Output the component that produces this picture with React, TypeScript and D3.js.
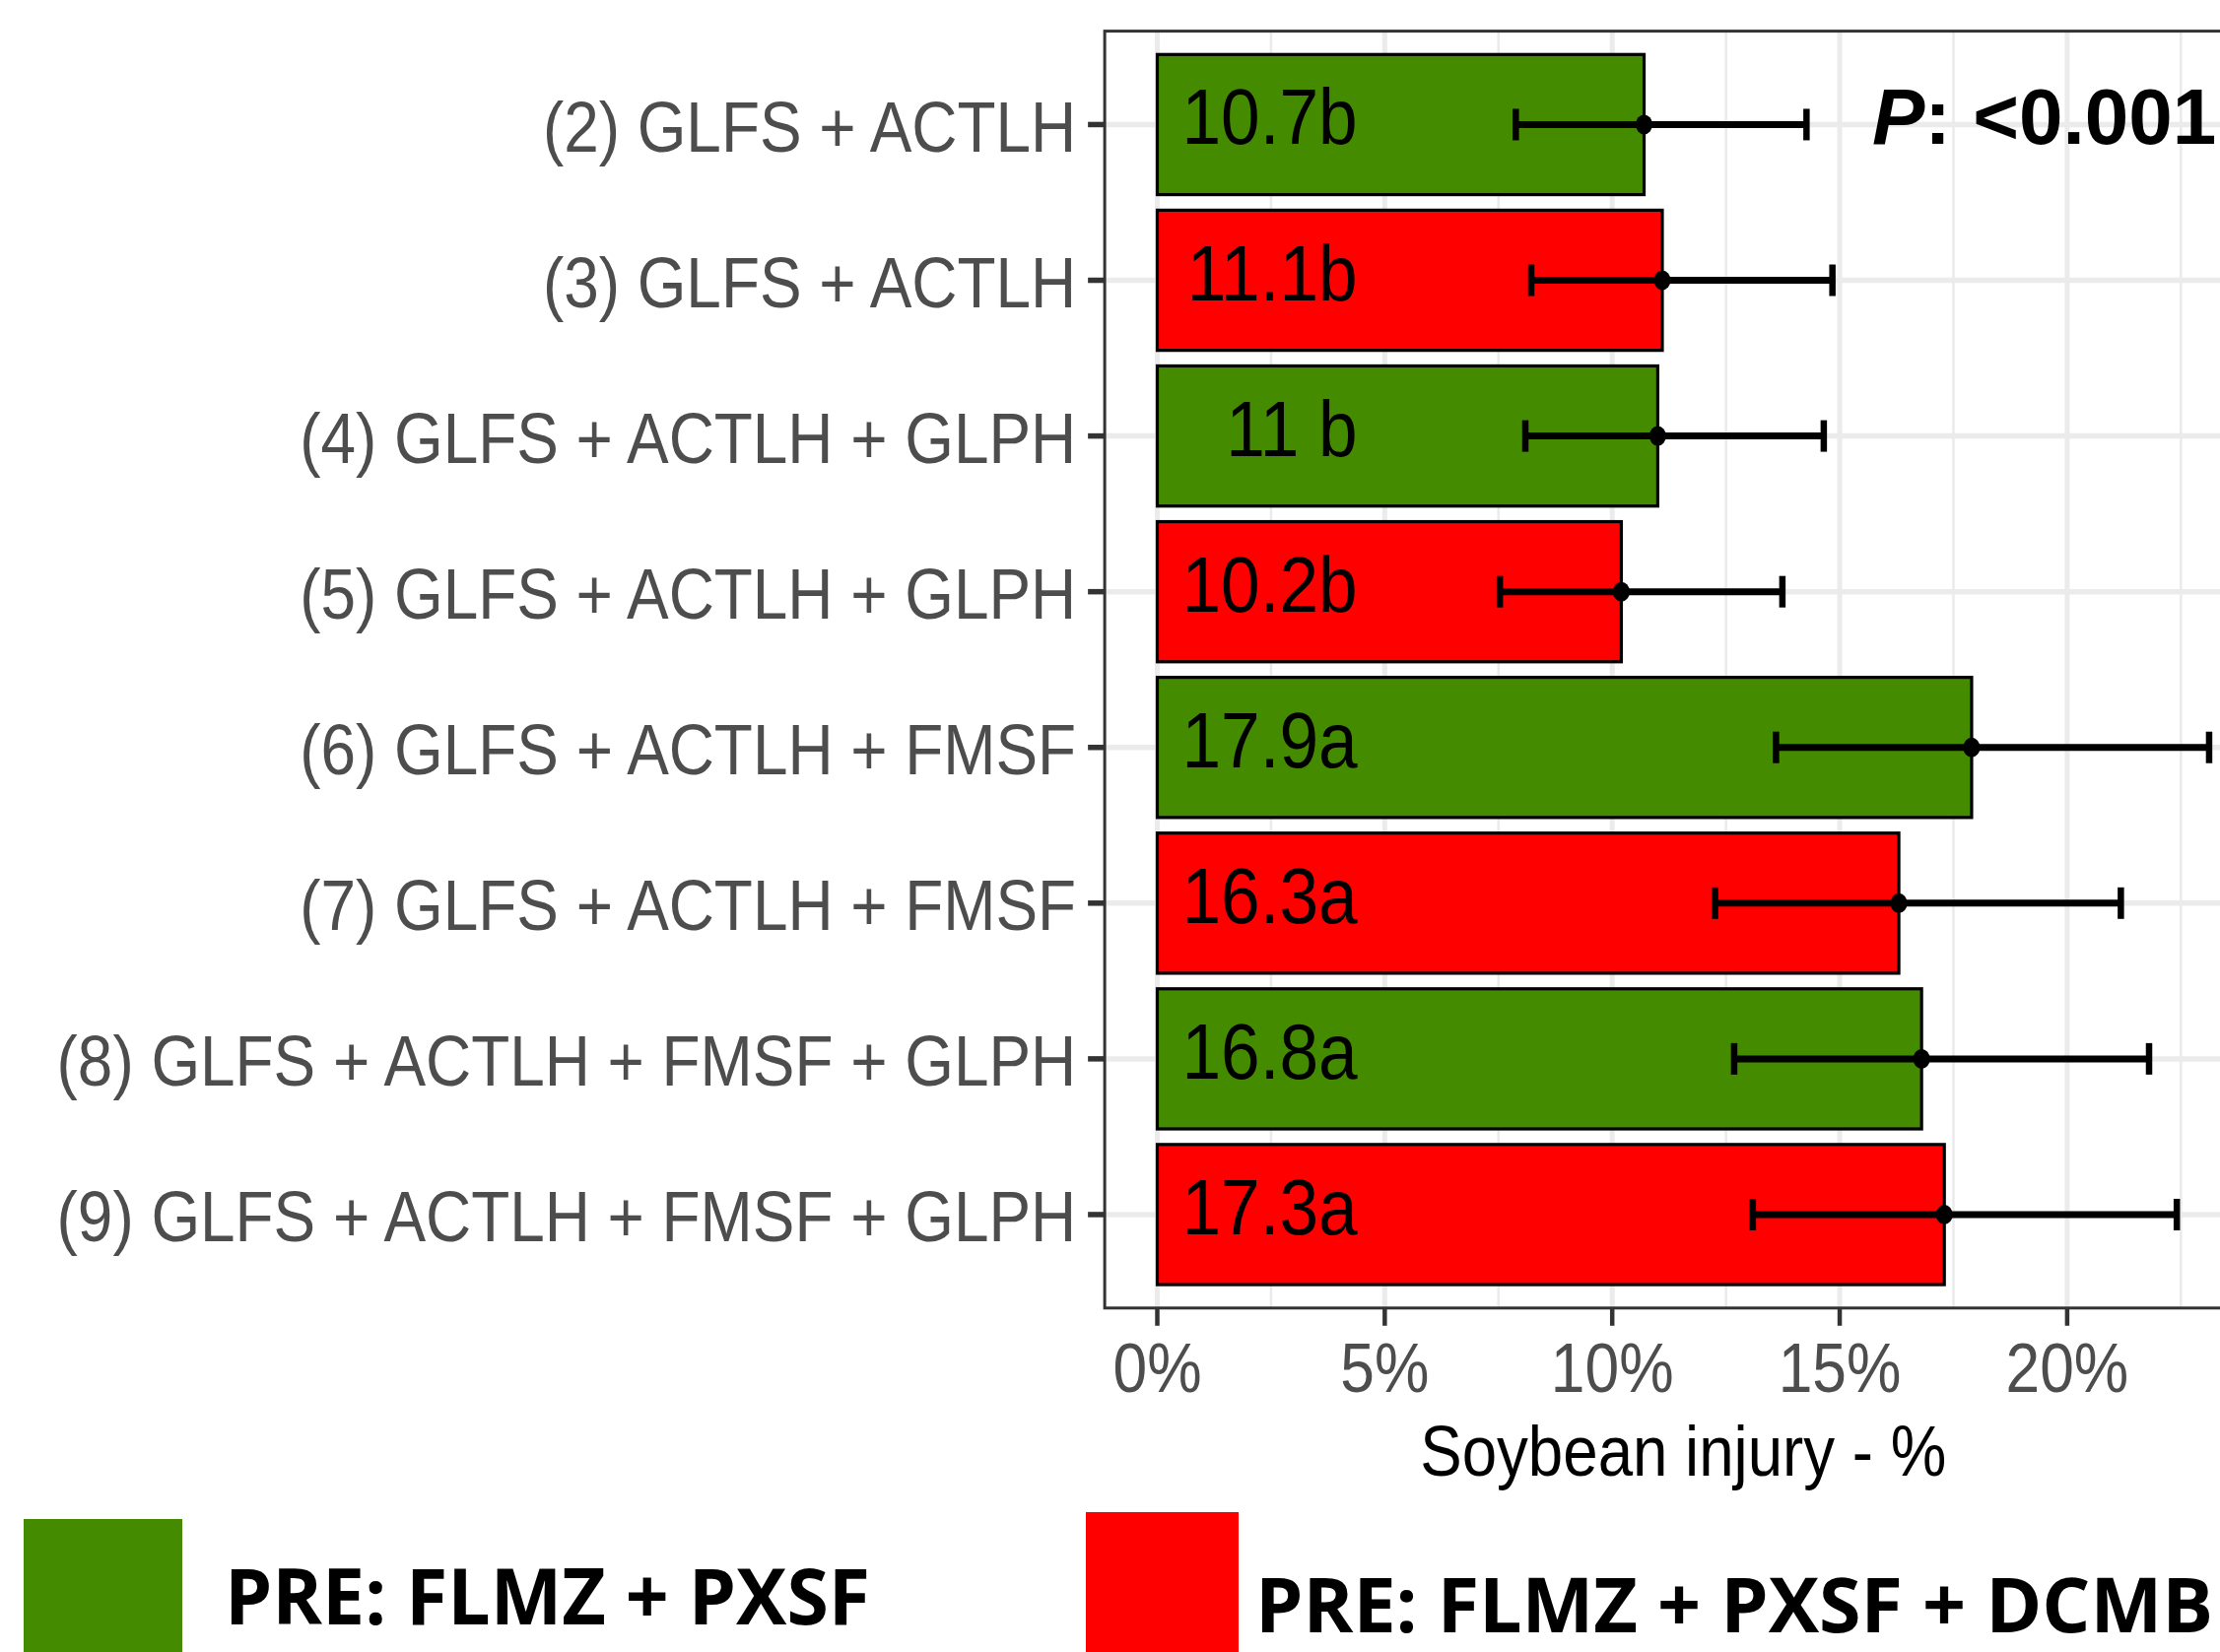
import React from "react";
import * as d3 from "d3";

const categories = [
  "(2) GLFS + ACTLH",
  "(3) GLFS + ACTLH",
  "(4) GLFS + ACTLH + GLPH",
  "(5) GLFS + ACTLH + GLPH",
  "(6) GLFS + ACTLH + FMSF",
  "(7) GLFS + ACTLH + FMSF",
  "(8) GLFS + ACTLH + FMSF + GLPH",
  "(9) GLFS + ACTLH + FMSF + GLPH",
];
const injury = [10.7, 11.1, 11.0, 10.2, 17.9, 16.3, 16.8, 17.3];
const lower = [7.88, 8.22, 8.09, 7.53, 13.6, 12.26, 12.68, 13.09];
const upper = [14.27, 14.84, 14.65, 13.74, 23.12, 21.18, 21.8, 22.41];
const letters = ["b", "b", "b", "b", "a", "a", "a", "a"];
const groupIndex = [0, 1, 0, 1, 0, 1, 0, 1];
const groups = ["PRE: FLMZ + PXSF", "PRE: FLMZ + PXSF + DCMB"];
const groupColors = ["#458B00", "#FF0000"];
const xTicks = [0, 5, 10, 15, 20];
const xMinor = [2.5, 7.5, 12.5, 17.5, 22.5];
const pText = "<0.001";
const xTitle = "Soybean injury - %";
const labelAnchorValue = 4.4;

const W = 2253;
const H = 1677;
const SX = 0.89;

function fmtLabel(v: number, l: string) {
  const s = Number.isInteger(v) ? `${v} ` : `${v}`;
  return s + l;
}

export default function App() {
  const maxU = d3.max(upper) as number;
  const ext = maxU * 0.05;
  const lo = -ext;
  const hi = maxU + ext;
  const x0 = 1174.5;
  const k = 46.17;
  const x = d3.scaleLinear().domain([lo, hi]).range([x0 + lo * k, x0 + hi * k]);
  const panelL = x(lo);
  const panelR = x(hi);
  const panelT = 31.6;
  const panelB = 1327.8;
  const y = d3
    .scaleBand<string>()
    .domain(categories)
    .range([panelT, panelB])
    .paddingInner(0.1)
    .paddingOuter(0.15);
  const bw = y.bandwidth();
  const cy = (c: string) => (y(c) as number) + bw / 2;
  const sans = "'Liberation Sans', Arial, Helvetica, sans-serif";

  return (
    <svg
      width={W}
      height={H}
      style={{ position: "absolute", left: 0, top: 0, background: "#fff" }}
      xmlns="http://www.w3.org/2000/svg"
    >
      <rect x={0} y={0} width={W} height={H} fill="#fff" />
      {/* grid */}
      <g>
        {xMinor.map((t) => (
          <line key={"mi" + t} x1={x(t)} x2={x(t)} y1={panelT} y2={panelB} stroke="#EBEBEB" strokeWidth={2.6} />
        ))}
        {xTicks.map((t) => (
          <line key={"ma" + t} x1={x(t)} x2={x(t)} y1={panelT} y2={panelB} stroke="#EBEBEB" strokeWidth={5} />
        ))}
        {categories.map((c) => (
          <line key={"h" + c} x1={panelL} x2={panelR} y1={cy(c)} y2={cy(c)} stroke="#EBEBEB" strokeWidth={5.5} />
        ))}
      </g>
      {/* bars */}
      <g>
        {categories.map((c, i) => (
          <rect
            key={"b" + c}
            x={x(0)}
            y={y(c) as number}
            width={x(injury[i]) - x(0)}
            height={bw}
            fill={groupColors[groupIndex[i]]}
            stroke="#000"
            strokeWidth={3.2}
          />
        ))}
      </g>
      {/* bar labels */}
      <g>
        {categories.map((c, i) => (
          <text
            key={"l" + c}
            transform={`translate(${x(labelAnchorValue)},${cy(c) + 20}) scale(${SX},1)`}
            textAnchor="end"
            fontFamily={sans}
            fontSize={80}
            fill="#000"
            style={{ whiteSpace: "pre" }}
          >
            {fmtLabel(injury[i], letters[i])}
          </text>
        ))}
      </g>
      {/* error bars */}
      <g stroke="#000">
        {categories.map((c, i) => (
          <g key={"e" + c}>
            <line x1={x(lower[i])} x2={x(upper[i])} y1={cy(c)} y2={cy(c)} strokeWidth={7} />
            <line x1={x(lower[i])} x2={x(lower[i])} y1={cy(c) - 16} y2={cy(c) + 16} strokeWidth={6.5} />
            <line x1={x(upper[i])} x2={x(upper[i])} y1={cy(c) - 16} y2={cy(c) + 16} strokeWidth={6.5} />
            <ellipse cx={x(injury[i])} cy={cy(c)} rx={8.5} ry={10} fill="#000" stroke="none" />
          </g>
        ))}
      </g>
      {/* P value */}
      <text x={1900} y={146} fontFamily={sans} fontSize={80} fontWeight="bold" fill="#000">
        <tspan fontStyle="italic">P</tspan>
        <tspan>: {pText}</tspan>
      </text>
      {/* panel border */}
      <rect x={panelL} y={panelT} width={panelR - panelL} height={panelB - panelT} fill="none" stroke="#333333" strokeWidth={3} />
      {/* y axis */}
      <g>
        {categories.map((c) => (
          <g key={"yt" + c}>
            <line x1={panelL - 17} x2={panelL} y1={cy(c)} y2={cy(c)} stroke="#333333" strokeWidth={5.5} />
            <text
              transform={`translate(${panelL - 29},${cy(c) + 27.5}) scale(0.875,1)`}
              textAnchor="end"
              fontFamily={sans}
              fontSize={73}
              fill="#4D4D4D"
            >
              {c}
            </text>
          </g>
        ))}
      </g>
      {/* x axis */}
      <g>
        {xTicks.map((t) => (
          <g key={"xt" + t}>
            <line x1={x(t)} x2={x(t)} y1={panelB} y2={panelB + 18} stroke="#333333" strokeWidth={4.5} />
            <text
              transform={`translate(${x(t)},1413) scale(${SX},1)`}
              textAnchor="middle"
              fontFamily={sans}
              fontSize={70}
              fill="#4D4D4D"
            >
              {t + "%"}
            </text>
          </g>
        ))}
        <text
          transform={`translate(${(panelL + panelR) / 2},1498) scale(${SX},1)`}
          textAnchor="middle"
          fontFamily={sans}
          fontSize={71.5}
          fill="#000"
        >
          {xTitle}
        </text>
      </g>
      {/* legend */}
      <g>
        <rect x={24} y={1542} width={161} height={H - 1542} fill={groupColors[0]} />
        <text x={228} y={1649} fontFamily="'Open Sans', 'Noto Sans', sans-serif" fontWeight="bold" fontSize={78} fill="#000" textLength={655} lengthAdjust="spacingAndGlyphs">
          {groups[0]}
        </text>
        <rect x={1102} y={1535} width={155} height={H - 1535} fill={groupColors[1]} />
        <text x={1274} y={1657} fontFamily="'Open Sans', 'Noto Sans', sans-serif" fontWeight="bold" fontSize={77} fill="#000" textLength={972} lengthAdjust="spacingAndGlyphs">
          {groups[1]}
        </text>
      </g>
    </svg>
  );
}
